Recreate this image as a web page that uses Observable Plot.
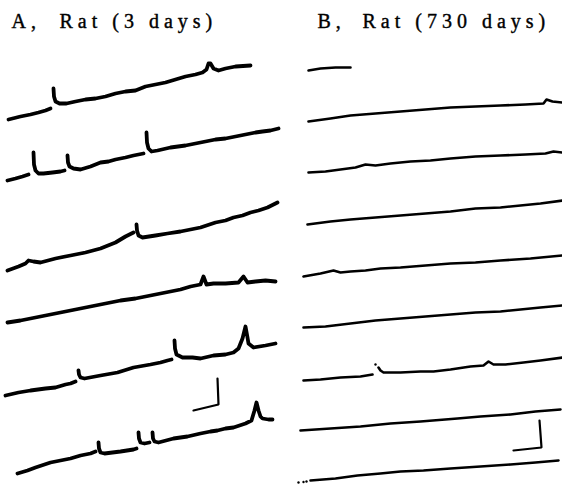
<!DOCTYPE html>
<html>
<head>
<meta charset="utf-8">
<script src="https://cdn.jsdelivr.net/npm/d3@7"></script>
<script src="https://cdn.jsdelivr.net/npm/@observablehq/plot@0.6"></script>
<style>
  html, body { margin: 0; padding: 0; background: #fff; }
  #chart svg { display: block; }
</style>
</head>
<body>
<div id="chart"></div>
<script>
// Panel titles
const panelLetters = ["A,", "B,"];
const panelTitles = ["Rat (3 days)", "Rat (730 days)"];

// A null level marks the fast rising edge that the pen did not draw.
// Panel A: Rat (3 days)
const traceA1 = [[8,119],[20,116],[30,114],[38,112],[45,110],[50,108],[51,null],[53,88],[53.5,96],[55,101],[59,103],[66,103],[75,101],[85,99],[95,98],[105,96],[115,93],[125,91],[135,90],[145,86],[155,84],[165,82],[175,79],[185,76],[195,74],[202,72],[206,69],[208,63],[210,63],[213,68],[218,70],[225,68],[235,66],[250,65]];
const traceA2 = [[7,180],[15,178],[22,176],[28,174],[30,null],[33,152],[33.5,164],[35,170],[38,173],[43,173],[52,172],[60,171],[64,170],[65,null],[67,155],[67.5,162],[69,166],[73,168],[80,169],[90,166],[100,162],[108,161],[115,159],[125,157],[133,155],[143,153],[144,null],[146,132],[146.5,142],[148,148],[151,151],[157,150],[170,147],[185,145],[195,143],[205,141],[215,139],[225,138],[235,136],[245,134],[255,132],[262,131],[270,130],[278,128]];
const traceA3 = [[7,270],[18,266],[25,263],[28,260],[33,261],[40,262],[55,258],[70,255],[85,252],[100,248],[115,242],[125,236],[133,232],[134,null],[136,224],[136.5,230],[138,235],[142,237],[155,235],[167,233],[180,231],[190,229],[200,227],[215,222],[225,220],[233,217],[242,215],[250,212],[258,210],[267,207],[277,202]];
const traceA4 = [[7,322],[20,320],[30,318],[45,315],[60,312],[75,309],[90,306],[105,303],[120,300],[135,298],[150,295],[160,293],[170,291],[180,289],[190,286],[200,284],[203,276],[206,284],[213,283],[225,283],[238,282],[243,276],[247,282],[255,281],[265,280],[275,281]];
const traceA5 = [[5,395],[18,392],[30,390],[45,388],[55,387],[65,384],[70,383],[75,381],[76,null],[78,370],[78.5,374],[80,377],[84,378],[100,375],[117,372],[133,367],[150,364],[160,362],[167,360],[171,359],[172,null],[174,340],[174.5,348],[176,354],[182,357],[192,357],[200,358],[213,355],[225,354],[233,352],[238,348],[242,338],[245,326],[247,337],[248,343],[253,347],[265,345],[275,343]];
const traceA6 = [[17,473],[27,470],[35,467],[50,462],[60,460],[70,458],[80,455],[90,453],[95,451],[96,null],[98,442],[98.5,448],[100,452],[104,453],[120,451],[133,449],[136,448],[137,null],[138,432],[138.5,438],[140,442],[144,443],[149,442],[150,null],[152,432],[152.5,438],[154,441],[158,442],[173,438],[187,436],[200,433],[210,431],[217,430],[225,428],[233,427],[245,423],[251,420],[254,410],[256,402],[258,410],[260,416],[262,418],[268,419],[272,419]];
// Panel B: Rat (730 days)
const traceB0 = [[308,70],[320,68],[335,67],[350,67]];
const traceB1 = [[308,121],[330,118],[350,115],[375,113],[400,111],[425,109],[450,107],[475,106],[500,105],[525,104],[543,103],[546,99],[552,101],[562,102]];
const traceB2 = [[308,172],[325,171],[340,169],[355,167],[365,164],[375,165],[390,163],[410,161],[430,160],[450,158],[475,156],[500,155],[525,154],[545,153],[553,151],[562,152]];
const traceB3 = [[307,224],[330,221],[350,219],[375,217],[400,215],[425,213],[450,211],[475,208],[500,207],[520,205],[540,203],[562,200]];
const traceB4 = [[303,276],[320,273],[333,270],[340,272],[350,271],[365,270],[380,268],[400,267],[425,265],[450,263],[475,262],[500,260],[530,258],[562,255]];
const traceB5 = [[303,327],[325,326],[350,323],[375,320],[400,318],[425,316],[450,314],[475,312],[500,311],[520,309],[540,307],[562,305]];
const traceB6 = [[303,380],[320,379],[340,377],[360,376],[372,374],[376,null],[378,367],[380,370],[383,372],[400,372],[420,371],[433,371],[450,369],[470,366],[483,365],[488,361],[493,364],[505,364],[523,362],[540,360],[562,357]];
const traceB7 = [[300,430],[330,428],[360,426],[390,423],[420,421],[457,418],[480,416],[510,414],[535,411],[560,409]];
const traceB8 = [[310,480],[335,478],[357,475],[380,473],[400,471],[423,470],[450,468],[480,466],[510,464],[535,462],[558,460]];
const traceB8Dots = [[298,482],[303,481.5],[306,481]];
const spikeB6 = [[375,364]];
// Calibration bars (L-shaped)
const scaleBarA = [[193,410],[218,404],[217,378]];
const scaleBarB = [[513,450],[541,447],[539,420]];

const tracesA = {A1: traceA1, A2: traceA2, A3: traceA3, A4: traceA4, A5: traceA5, A6: traceA6};
const tracesB = {B0: traceB0, B1: traceB1, B2: traceB2, B3: traceB3, B4: traceB4, B5: traceB5, B6: traceB6, B7: traceB7, B8: traceB8};
const flatten = (obj) => Object.entries(obj).flatMap(([id, pts]) => pts.map(([t, v]) => ({id, t, v})));
const dataA = flatten(tracesA);
const dataB = flatten(tracesB);
const bars = flatten({a: scaleBarA, b: scaleBarB});
const dots = [...traceB8Dots, ...spikeB6].map(([t, v]) => ({t, v}));

const titleFont = "'Liberation Serif', 'DejaVu Serif', serif";
const titleStyle = {frameAnchor: "top-left", lineAnchor: "bottom", textAnchor: "start", fontSize: 20, fontFamily: titleFont, fill: "#000", stroke: "#000", strokeWidth: 0.4};

const chart = Plot.plot({
  width: 562,
  height: 484,
  margin: 0,
  x: {domain: [0, 562], axis: null},
  y: {domain: [0, 484], reverse: true, axis: null},
  style: {background: "#fff"},
  marks: [
    Plot.line(dataA, {x: "t", y: "v", z: "id", stroke: "#000", strokeWidth: 3.8, strokeLinejoin: "round", strokeLinecap: "round"}),
    Plot.line(dataB, {x: "t", y: "v", z: "id", stroke: "#000", strokeWidth: 2.6, strokeLinejoin: "round", strokeLinecap: "round"}),
    Plot.line(bars, {x: "t", y: "v", z: "id", stroke: "#000", strokeWidth: 2.2, strokeLinejoin: "miter"}),
    Plot.dot(dots, {x: "t", y: "v", r: 1.2, fill: "#000"}),
    Plot.text([panelLetters[0]], {...titleStyle, dx: 11, dy: 27}),
    Plot.text([panelTitles[0]], {...titleStyle, dx: 59, dy: 27}),
    Plot.text([panelLetters[1]], {...titleStyle, dx: 317, dy: 27}),
    Plot.text([panelTitles[1]], {...titleStyle, dx: 362, dy: 27})
  ]
});
chart.querySelectorAll("text").forEach(t => t.style.letterSpacing = "5px");
document.getElementById("chart").appendChild(chart);
</script>
</body>
</html>
